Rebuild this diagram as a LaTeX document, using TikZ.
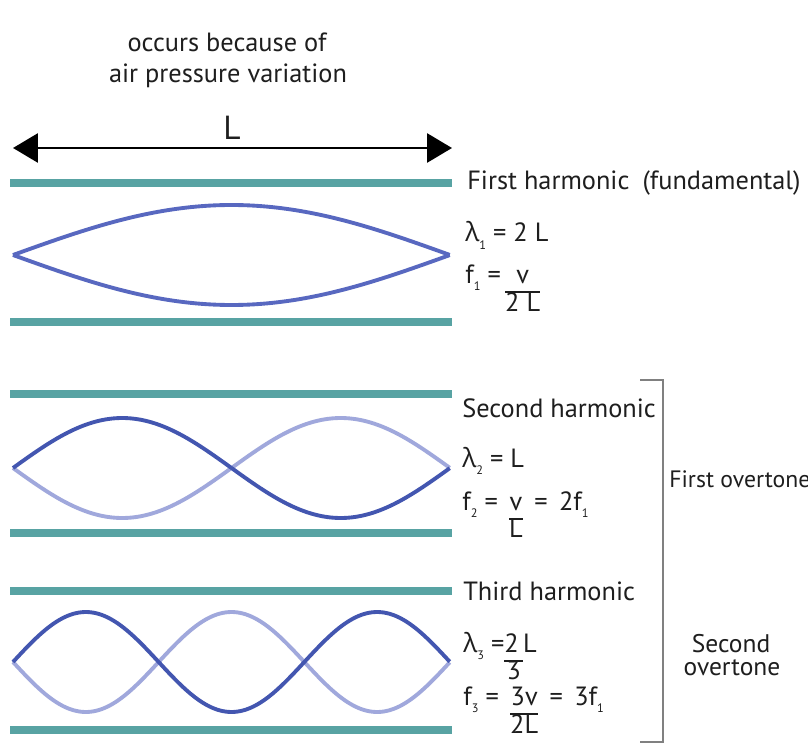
\documentclass[tikz,border=0pt]{standalone}
\usepackage{fontspec}
\setmainfont{PT Sans}
\newfontfamily\greekfont{Open Sans}
\usetikzlibrary{arrows.meta}
\definecolor{tubeteal}{RGB}{88,163,163}
\definecolor{wavedark}{RGB}{67,86,176}
\definecolor{wavelight}{RGB}{160,168,220}
\definecolor{wavemid}{RGB}{88,104,192}
\definecolor{txtgray}{RGB}{30,30,30}
\setlength{\arrayrulewidth}{1.1pt}
\newcommand{\fr}[2]{{\renewcommand{\arraystretch}{0.8}\begin{tabular}[t]{@{}c@{}}#1\\\hline #2\end{tabular}}}
\newcommand{\sub}[1]{\raisebox{-0.6ex}{\scriptsize#1}}
\newcommand{\lam}{{\greekfont λ}}

\begin{document}
\begin{tikzpicture}[x=0.02cm,y=-0.02cm,
    tube/.style={line width=4pt,tubeteal},
    wave/.style={line width=2.2pt,domain=0:1,samples=80,smooth},
    lbl/.style={anchor=base west,inner sep=0pt,text=txtgray,font=\fontsize{15}{18}\selectfont}]
    \useasboundingbox[fill=white] (0,0) rectangle (808,743);
    % Title
    \node[lbl,anchor=base] (title1) at (227,52) {occurs because of};
    \node[lbl,anchor=base] (title2) at (228,83) {air pressure variation};
    % Length
    \coordinate (Lleft) at (13,148);
    \coordinate (Lright) at (452,148);
    \draw[line width=1.7pt,{Triangle[length=0.5cm,width=0.58cm]}-{Triangle[length=0.5cm,width=0.58cm]}] (Lleft) -- (Lright);
    \node[lbl,anchor=base,font=\fontsize{19}{22}\selectfont] (Llabel) at (232,140) {L};
    % Tubes
    \foreach \t/\b in {183/322,394/533,591/730}{
        \draw[tube] (10,\t) -- (452,\t);
        \draw[tube] (10,\b) -- (452,\b);
    }
    % First harmonic
    \draw[wave,wavemid] plot ({13+437*\x},{255-50*sin(180*\x)});
    \draw[wave,wavemid] plot ({13+437*\x},{255+50*sin(180*\x)});
    % Second harmonic
    \draw[wave,wavelight] plot ({13+437*\x},{468+50*sin(360*\x)});
    \draw[wave,wavedark] plot ({13+437*\x},{468-50*sin(360*\x)});
    % Third harmonic
    \draw[wave,wavelight] plot ({13+437*\x},{662+50*sin(540*\x)});
    \draw[wave,wavedark] plot ({13+437*\x},{662-50*sin(540*\x)});
    % Labels
    \node[lbl] (h1) at (467,190) {First harmonic\enspace(fundamental)};
    \node[lbl] (lam1) at (465,242) {\lam\sub{1} = 2 L};
    \node[lbl] (f1) at (465,283) {f\sub{1} =\,\fr{v}{2 L}};
    \node[lbl] (h2) at (462,417) {Second harmonic};
    \node[lbl] (lam2) at (462,467) {\lam\sub{2} = L};
    \node[lbl] (f2) at (462,510) {f\sub{2} = \,\fr{v}{L}\, = \,2f\sub{1}};
    \node[lbl] (h3) at (463,600) {Third harmonic};
    \node[lbl] (lam3) at (463,652) {\lam\sub{3} =\fr{2\,}{3}L};
    \node[lbl] (f3) at (463,705) {f\sub{3} = \,\fr{3v}{2L}\, = \,3f\sub{1}};
    % Overtones
    \coordinate (btop) at (640,380);
    \coordinate (bbot) at (640,742);
    \draw[gray,line width=0.9pt] (btop) -| (663,742) -- (bbot);
    \node[lbl,font=\fontsize{13.5}{16}\selectfont] (ov1) at (669,487) {First overtone};
    \node[lbl,anchor=base,font=\fontsize{14.5}{17}\selectfont] (ov2a) at (731,652) {Second};
    \node[lbl,anchor=base,font=\fontsize{14.5}{17}\selectfont] (ov2b) at (732,675) {overtone};
\end{tikzpicture}
\end{document}
